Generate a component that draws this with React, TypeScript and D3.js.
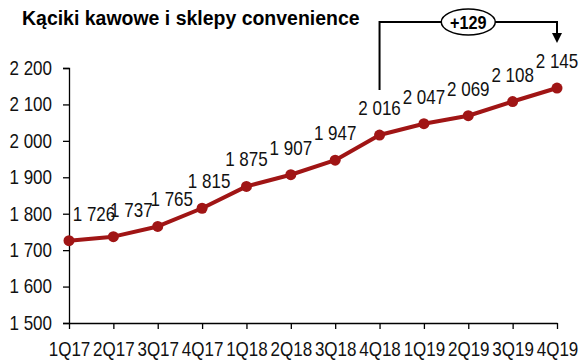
import { useEffect, useRef } from "react";
import * as d3 from "d3";

const QUARTERS = ["1Q17", "2Q17", "3Q17", "4Q17", "1Q18", "2Q18", "3Q18", "4Q18", "1Q19", "2Q19", "3Q19", "4Q19"];
const STORES = [1726, 1737, 1765, 1815, 1875, 1907, 1947, 2016, 2047, 2069, 2108, 2145];
const Y_TICKS = [1500, 1600, 1700, 1800, 1900, 2000, 2100, 2200];
const TITLE = "Kąciki kawowe i sklepy convenience";
const DELTA_LABEL = "+129";
const DELTA_FROM = "4Q18";
const DELTA_TO = "4Q19";

const RED = "#A01515";
const FONT = "'Liberation Sans', Arial, sans-serif";
const SQUEEZE = 0.85; // source text is horizontally narrow
// small horizontal nudges for the crowded early labels
const LABEL_SHIFT = [25, 18, 14, 7, 0, 0, 0, 0, 0, 0, 0, 0];

const fmt = (v: number) => d3.format(",")(v).replace(/,/g, " ");

export default function App() {
  const ref = useRef<SVGSVGElement>(null);

  useEffect(() => {
    const el = ref.current;
    if (!el) return;
    const W = 587, H = 363;
    const svg = d3.select(el).attr("width", W).attr("height", H);
    svg.selectAll("*").remove();

    const x = d3.scalePoint<string>().domain(QUARTERS).range([69, 557]);
    const y = d3.scaleLinear().domain([1500, 2200]).range([323, 68]);

    svg.append("text").attr("transform", "translate(22,25) scale(0.95,1)").attr("font-family", FONT)
      .attr("font-size", 20.5).attr("font-weight", "bold").attr("fill", "#000").text(TITLE);

    // y axis
    const ya = svg.append("g").attr("transform", "translate(69,0)")
      .call(d3.axisLeft(y).tickValues(Y_TICKS).tickSize(6).tickPadding(0).tickFormat((d) => fmt(+d)));
    ya.select(".domain").attr("stroke", "#000").attr("stroke-width", 1.3);
    ya.selectAll(".tick line").attr("stroke", "#000").attr("stroke-width", 1.3);
    ya.selectAll(".tick text").attr("x", 0).attr("transform", `translate(-17,0) scale(${SQUEEZE},1)`)
      .attr("font-family", FONT).attr("font-size", 20).attr("fill", "#111");

    // x axis
    const xa = svg.append("g").attr("transform", "translate(0,323)")
      .call(d3.axisBottom(x).tickSize(6).tickPadding(13).tickSizeOuter(0));
    xa.select(".domain").attr("stroke", "#000").attr("stroke-width", 1.3);
    xa.selectAll(".tick line").attr("stroke", "#000").attr("stroke-width", 1.3);
    xa.selectAll(".tick text").attr("transform", `scale(${SQUEEZE},1)`)
      .attr("font-family", FONT).attr("font-size", 20).attr("fill", "#111");

    const pts = QUARTERS.map((q, i) => ({ q, v: STORES[i], i }));

    svg.append("path").datum(pts)
      .attr("d", d3.line<typeof pts[0]>().x((d) => x(d.q) ?? 0).y((d) => y(d.v)))
      .attr("fill", "none").attr("stroke", RED).attr("stroke-width", 4).attr("stroke-linejoin", "round");

    svg.append("g").selectAll("circle").data(pts).join("circle")
      .attr("cx", (d) => x(d.q) ?? 0).attr("cy", (d) => y(d.v)).attr("r", 5.5).attr("fill", RED);

    svg.append("g").selectAll("text").data(pts).join("text")
      .attr("transform", (d) => `translate(${(x(d.q) ?? 0) + LABEL_SHIFT[d.i]},${y(d.v) - 20}) scale(${SQUEEZE},1)`)
      .attr("text-anchor", "middle").attr("font-family", FONT).attr("font-size", 20).attr("fill", "#111")
      .text((d) => fmt(d.v));

    // bracket showing change
    const x0 = x(DELTA_FROM) ?? 0, x1 = x(DELTA_TO) ?? 0;
    const v0 = STORES[QUARTERS.indexOf(DELTA_FROM)];
    const top = 22;
    svg.append("path")
      .attr("d", `M${x0},${y(v0) - 45}V${top}H${x1}V34`)
      .attr("fill", "none").attr("stroke", "#000").attr("stroke-width", 2);
    svg.append("path").attr("d", `M${x1 - 5},33L${x1 + 5},33L${x1},43Z`).attr("fill", "#000");
    const cx = (x0 + x1) / 2;
    svg.append("ellipse").attr("cx", cx).attr("cy", top).attr("rx", 27).attr("ry", 13)
      .attr("fill", "#fff").attr("stroke", "#000").attr("stroke-width", 1.5);
    svg.append("text").attr("transform", `translate(${cx},${top + 6.5}) scale(0.9,1)`).attr("text-anchor", "middle")
      .attr("font-family", FONT).attr("font-size", 18).attr("font-weight", "bold").text(DELTA_LABEL);
  }, []);

  return <svg ref={ref} style={{ position: "absolute", left: 0, top: 0, background: "#fff" }} />;
}
